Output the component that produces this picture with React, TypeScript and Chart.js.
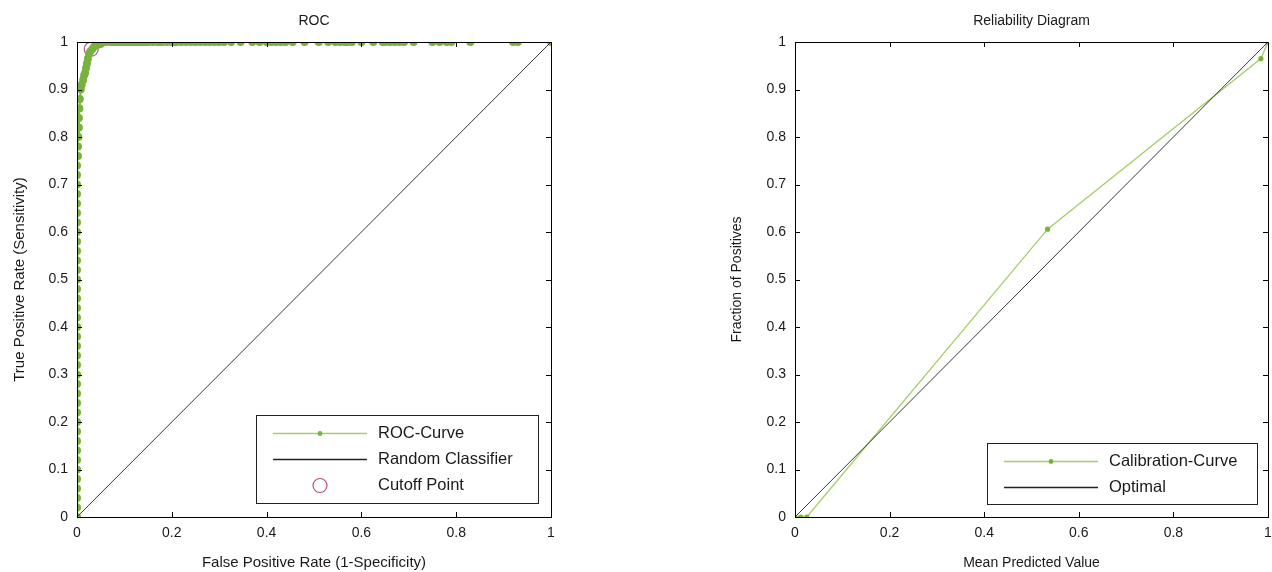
import React, { useEffect, useRef } from "react";
import { Chart, registerables } from "chart.js";

Chart.register(...registerables);

// ROC curve data (False Positive Rate, True Positive Rate)
const rocFpr: number[] = [
  0, 0, 0, 0, 0, 0, 0, 0, 0, 0,
  0, 0, 0, 0, 0, 0, 0, 0, 0, 0,
  0, 0, 0, 0, 0, 0, 0, 0, 0, 0,
  0, 0, 0, 0, 0, 0, 0, 0,
  0.002, 0.002, 0.003, 0.004, 0.004, 0.005, 0.006, 0.008, 0.01, 0.013,
  0.015, 0.017, 0.019, 0.021, 0.023, 0.025, 0.028, 0.032, 0.036, 0.042, 0.05,
  0.06, 0.07, 0.075, 0.08, 0.085, 0.09, 0.095, 0.1, 0.105, 0.11,
  0.115, 0.12, 0.125, 0.13, 0.135, 0.14, 0.145, 0.15, 0.16, 0.17,
  0.175, 0.18, 0.19, 0.2, 0.205, 0.21, 0.22, 0.23, 0.24, 0.25,
  0.26, 0.27, 0.28, 0.29, 0.3, 0.31, 0.325, 0.345, 0.37, 0.385,
  0.4, 0.41, 0.42, 0.43, 0.44, 0.455, 0.48, 0.51, 0.53, 0.545,
  0.555, 0.565, 0.57, 0.58, 0.6, 0.625, 0.645, 0.65, 0.66, 0.67,
  0.68, 0.69, 0.71, 0.75, 0.765, 0.78, 0.79, 0.83, 0.92, 0.93, 1.0,
];
const rocTpr: number[] = [
  0, 0.02, 0.04, 0.06, 0.08, 0.1, 0.12, 0.14, 0.16, 0.18,
  0.2, 0.22, 0.24, 0.26, 0.28, 0.3, 0.32, 0.34, 0.36, 0.38,
  0.4, 0.42, 0.44, 0.46, 0.48, 0.5, 0.52, 0.54, 0.56, 0.58,
  0.6, 0.62, 0.64, 0.66, 0.68, 0.7, 0.72, 0.74,
  0.76, 0.78, 0.8, 0.82, 0.84, 0.86, 0.88, 0.9, 0.91, 0.92,
  0.93, 0.935, 0.945, 0.955, 0.965, 0.975, 0.98, 0.985, 0.99, 0.993, 0.996,
  1, 1, 1, 1, 1, 1, 1, 1, 1, 1,
  1, 1, 1, 1, 1, 1, 1, 1, 1, 1,
  1, 1, 1, 1, 1, 1, 1, 1, 1, 1,
  1, 1, 1, 1, 1, 1, 1, 1, 1, 1,
  1, 1, 1, 1, 1, 1, 1, 1, 1, 1,
  1, 1, 1, 1, 1, 1, 1, 1, 1, 1,
  1, 1, 1, 1, 1, 1, 1, 1, 1, 1, 1,
];
const randomX: number[] = [0, 1];
const randomY: number[] = [0, 1];
const cutoffX: number[] = [0.03];
const cutoffY: number[] = [0.985];

// Reliability diagram data
const meanPredicted: number[] = [0, 0.012, 0.025, 0.534, 0.985, 1];
const fractionPositives: number[] = [0, 0, 0, 0.606, 0.965, 1];
const optimalX: number[] = [0, 1];
const optimalY: number[] = [0, 1];

const yTicks: number[] = [0, 0.1, 0.2, 0.3, 0.4, 0.5, 0.6, 0.7, 0.8, 0.9, 1];
const xTicks: number[] = [0, 0.2, 0.4, 0.6, 0.8, 1];

const FONT = "'Liberation Sans', Arial, sans-serif";
const GREEN = "#78b23e";
const GREEN_LIGHT = "#a6cd6a";
const TEXT = "#1a1a1a";

const zip = (xs: number[], ys: number[]) => xs.map((x, i) => ({ x, y: ys[i] }));
const fmt = (v: number) => String(Number(v.toFixed(1)));

type LegendItem = { label: string; kind: "lineMarker" | "line" | "circle"; color: string; markerColor?: string };

function makeFramePlugin(title: string, legend: { items: LegendItem[]; box: [number, number, number, number] }) {
  return {
    id: "frame",
    afterDraw(chart: any) {
      const ctx = chart.ctx as CanvasRenderingContext2D;
      const a = chart.chartArea;
      const xs = chart.scales.x;
      const ys = chart.scales.y;
      ctx.save();
      ctx.strokeStyle = "#000";
      ctx.lineWidth = 1;
      ctx.strokeRect(Math.round(a.left) + 0.5, Math.round(a.top) + 0.5, Math.round(a.right - a.left), Math.round(a.bottom - a.top));
      const tl = 5;
      ctx.beginPath();
      xTicks.forEach((t) => {
        const px = Math.round(xs.getPixelForValue(t)) + 0.5;
        ctx.moveTo(px, a.bottom);
        ctx.lineTo(px, a.bottom - tl);
        ctx.moveTo(px, a.top);
        ctx.lineTo(px, a.top + tl);
      });
      yTicks.forEach((t) => {
        const py = Math.round(ys.getPixelForValue(t)) + 0.5;
        ctx.moveTo(a.left, py);
        ctx.lineTo(a.left + tl, py);
        ctx.moveTo(a.right, py);
        ctx.lineTo(a.right - tl, py);
      });
      ctx.stroke();
      ctx.fillStyle = TEXT;
      ctx.font = `14px ${FONT}`;
      ctx.textAlign = "center";
      ctx.textBaseline = "middle";
      ctx.fillText(title, (a.left + a.right) / 2, 21);
      const [bx, by, bw, bh] = legend.box;
      ctx.fillStyle = "#fff";
      ctx.fillRect(bx, by, bw, bh);
      ctx.strokeStyle = "#222";
      ctx.lineWidth = 1;
      ctx.strokeRect(bx + 0.5, by + 0.5, bw, bh);
      const rowH = 26;
      legend.items.forEach((it, i) => {
        const cy = by + 18 + i * rowH + 0.5;
        const lx0 = bx + 17;
        const lx1 = bx + 111;
        if (it.kind === "line" || it.kind === "lineMarker") {
          ctx.strokeStyle = it.color;
          ctx.lineWidth = 1.3;
          ctx.beginPath();
          ctx.moveTo(lx0, cy);
          ctx.lineTo(lx1, cy);
          ctx.stroke();
          if (it.kind === "lineMarker") {
            ctx.fillStyle = it.markerColor || it.color;
            ctx.beginPath();
            ctx.arc((lx0 + lx1) / 2, cy, 2.4, 0, Math.PI * 2);
            ctx.fill();
          }
        } else {
          ctx.strokeStyle = it.color;
          ctx.lineWidth = 1.2;
          ctx.beginPath();
          ctx.arc((lx0 + lx1) / 2, cy, 7, 0, Math.PI * 2);
          ctx.stroke();
        }
        ctx.fillStyle = TEXT;
        ctx.font = `16.5px ${FONT}`;
        ctx.textAlign = "left";
        ctx.textBaseline = "middle";
        ctx.fillText(it.label, lx1 + 11, cy);
      });
      ctx.restore();
    },
  };
}

function scalesFor(xTitle: string, yTitle: string, titleSize: number) {
  return {
    x: {
      type: "linear" as const,
      min: 0,
      max: 1,
      afterBuildTicks: (s: any) => { s.ticks = xTicks.map((v) => ({ value: v })); },
      afterFit: (s: any) => { s.height = 55; s.paddingLeft = 0; s.paddingRight = 0; },
      grid: { display: false, drawTicks: false },
      border: { display: false },
      ticks: { padding: 8, color: TEXT, font: { family: FONT, size: 14 }, callback: (v: any) => fmt(Number(v)), maxRotation: 0 },
      title: { display: true, text: xTitle, color: TEXT, font: { family: FONT, size: titleSize }, padding: { top: 0, bottom: 0 } },
    },
    y: {
      type: "linear" as const,
      min: 0,
      max: 1,
      afterBuildTicks: (s: any) => { s.ticks = yTicks.map((v) => ({ value: v })); },
      afterFit: (s: any) => { s.width = 77; s.paddingTop = 0; s.paddingBottom = 0; },
      grid: { display: false, drawTicks: false },
      border: { display: false },
      ticks: { padding: 9, color: TEXT, font: { family: FONT, size: 14 }, callback: (v: any) => fmt(Number(v)) },
      title: { display: true, text: yTitle, color: TEXT, font: { family: FONT, size: titleSize }, padding: { top: 11, bottom: 0 } },
    },
  };
}

function RocChart() {
  const ref = useRef<HTMLCanvasElement>(null);
  useEffect(() => {
    const chart = new Chart(ref.current!, {
      type: "scatter",
      data: {
        datasets: [
          { label: "Random Classifier", data: zip(randomX, randomY), showLine: true, borderColor: "#3a3a3a", borderWidth: 1, pointRadius: 0 },
          { label: "ROC-Curve", data: zip(rocFpr, rocTpr), showLine: true, borderColor: GREEN, borderWidth: 2, pointRadius: 4, pointBackgroundColor: GREEN, pointBorderWidth: 0 },
          { label: "Cutoff Point", data: zip(cutoffX, cutoffY), showLine: false, pointRadius: 7, pointBorderColor: "#b8546e", pointBackgroundColor: "rgba(0,0,0,0)", pointBorderWidth: 1.2 },
        ],
      },
      options: {
        animation: false,
        responsive: false,
        layout: { padding: { left: 0, right: 85, top: 42, bottom: 0 } },
        plugins: { legend: { display: false }, tooltip: { enabled: false } },
        scales: scalesFor("False Positive Rate (1-Specificity)", "True Positive Rate (Sensitivity)", 15) as any,
      },
      plugins: [
        makeFramePlugin("ROC", {
          box: [256, 415, 282, 88],
          items: [
            { label: "ROC-Curve", kind: "lineMarker", color: GREEN_LIGHT, markerColor: GREEN },
            { label: "Random Classifier", kind: "line", color: "#222" },
            { label: "Cutoff Point", kind: "circle", color: "#b8546e" },
          ],
        }),
      ],
    });
    return () => chart.destroy();
  }, []);
  return <canvas ref={ref} width={636} height={572} style={{ position: "absolute", left: 0, top: 0 }} />;
}

function ReliabilityChart() {
  const ref = useRef<HTMLCanvasElement>(null);
  useEffect(() => {
    const chart = new Chart(ref.current!, {
      type: "scatter",
      data: {
        datasets: [
          { label: "Optimal", data: zip(optimalX, optimalY), showLine: true, borderColor: "#3a3a3a", borderWidth: 1, pointRadius: 0 },
          { label: "Calibration-Curve", data: zip(meanPredicted, fractionPositives), showLine: true, borderColor: GREEN_LIGHT, borderWidth: 1.3, pointRadius: 2.6, pointBackgroundColor: GREEN, pointBorderWidth: 0 },
        ],
      },
      options: {
        animation: false,
        responsive: false,
        layout: { padding: { left: 82, right: 3, top: 42, bottom: 0 } },
        plugins: { legend: { display: false }, tooltip: { enabled: false } },
        scales: scalesFor("Mean Predicted Value", "Fraction of Positives", 14) as any,
      },
      plugins: [
        makeFramePlugin("Reliability Diagram", {
          box: [987 - 636, 443, 270, 61],
          items: [
            { label: "Calibration-Curve", kind: "lineMarker", color: GREEN_LIGHT, markerColor: GREEN },
            { label: "Optimal", kind: "line", color: "#222" },
          ],
        }),
      ],
    });
    return () => chart.destroy();
  }, []);
  return <canvas ref={ref} width={636} height={572} style={{ position: "absolute", left: 636, top: 0 }} />;
}

export default function App() {
  return (
    <div style={{ position: "absolute", left: 0, top: 0, width: 1272, height: 572, background: "#fff" }}>
      <RocChart />
      <ReliabilityChart />
    </div>
  );
}
